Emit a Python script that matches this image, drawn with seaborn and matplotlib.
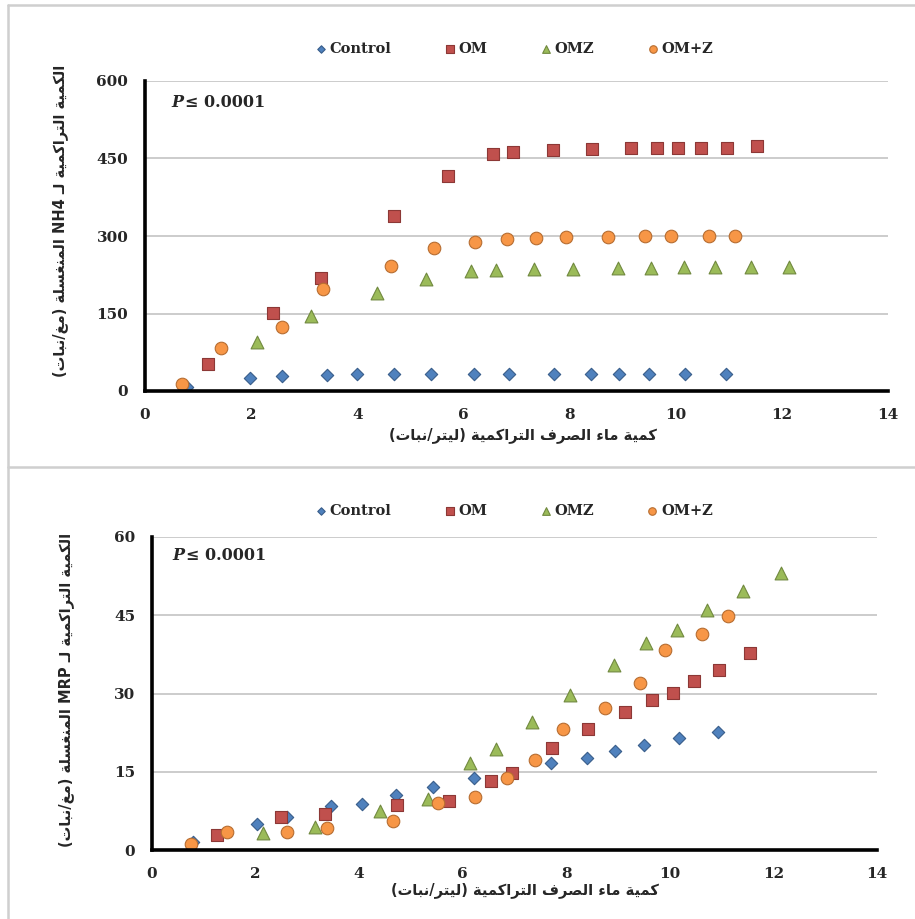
import re
import matplotlib
matplotlib.use("Agg")
import matplotlib.pyplot as plt
from matplotlib.lines import Line2D
import seaborn as sns
import pandas as pd

# ---------------- data ----------------
series_names = ["Control", "OM", "OMZ", "OM+Z"]

ctrl_x_nh4 = [0.79, 1.98, 2.59, 3.43, 4.00, 4.69, 5.39, 6.20, 6.85, 7.70, 8.41, 8.93, 9.49, 10.18, 10.95]
ctrl_y_nh4 = [7, 26, 29, 31, 32, 33, 33, 33, 33, 33, 33, 33, 33, 33, 33]
om_x_nh4 = [1.18, 2.41, 3.32, 4.70, 5.70, 6.55, 6.94, 7.69, 8.43, 9.15, 9.64, 10.05, 10.47, 10.97, 11.53]
om_y_nh4 = [53, 151, 219, 339, 416, 458, 463, 467, 469, 470, 470, 471, 471, 471, 474]
omz_x_nh4 = [2.11, 3.12, 4.37, 5.30, 6.15, 6.61, 7.33, 8.07, 8.92, 9.53, 10.15, 10.74, 11.41, 12.13]
omz_y_nh4 = [94, 146, 190, 217, 232, 234, 236, 237, 239, 239, 240, 240, 240, 240]
ompz_x_nh4 = [0.70, 1.43, 2.58, 3.35, 4.64, 5.45, 6.22, 6.83, 7.37, 7.93, 8.73, 9.42, 9.92, 10.62, 11.11]
ompz_y_nh4 = [13, 84, 123, 197, 242, 277, 289, 294, 297, 299, 299, 300, 300, 300, 300]

ctrl_x_mrp = [0.79, 2.03, 2.61, 3.46, 4.06, 4.71, 5.42, 6.22, 7.70, 8.40, 8.95, 9.50, 10.18, 10.93]
ctrl_y_mrp = [1.6, 5.0, 6.3, 8.4, 8.8, 10.6, 12.1, 13.8, 16.6, 17.7, 19.0, 20.2, 21.4, 22.7]
om_x_mrp = [1.25, 2.49, 3.34, 4.74, 5.73, 6.55, 6.96, 7.72, 8.42, 9.14, 9.65, 10.06, 10.46, 10.95, 11.55]
om_y_mrp = [2.9, 6.3, 6.9, 8.6, 9.3, 13.2, 14.8, 19.5, 23.1, 26.4, 28.7, 30.1, 32.4, 34.5, 37.7]
omz_x_mrp = [2.15, 3.14, 4.40, 5.32, 6.15, 6.64, 7.33, 8.07, 8.93, 9.54, 10.13, 10.72, 11.41, 12.15]
omz_y_mrp = [3.3, 4.4, 7.4, 9.7, 16.6, 19.4, 24.6, 29.8, 35.5, 39.6, 42.1, 46.0, 49.6, 53.1]
ompz_x_mrp = [0.76, 1.45, 2.61, 3.38, 4.65, 5.53, 6.24, 6.85, 7.39, 7.94, 8.75, 9.42, 9.90, 10.62, 11.13]
ompz_y_mrp = [1.2, 3.4, 3.4, 4.3, 5.5, 9.1, 10.1, 13.8, 17.2, 23.1, 27.2, 32.0, 38.4, 41.5, 44.8]

x_ticks = [0, 2, 4, 6, 8, 10, 12, 14]
y_ticks_nh4 = [0, 150, 300, 450, 600]
y_ticks_mrp = [0, 15, 30, 45, 60]

x_label = "كمية ماء الصرف التراكمية (ليتر/نبات)"
y_label_nh4 = "الكمية التراكمية لـ NH4 المنغسلة (مغ/نبات)"
y_label_mrp = "الكمية التراكمية لـ MRP المنغسلة (مغ/نبات)"
p_text = "≤ 0.0001"

# ---------------- styles ----------------
face = {"Control": "#4F81BD", "OM": "#C0504D", "OMZ": "#9BBB59", "OM+Z": "#F79646"}
edge = {"Control": "#385D8A", "OM": "#8C3836", "OMZ": "#71893F", "OM+Z": "#B66D31"}
mark = {"Control": "D", "OM": "s", "OMZ": "^", "OM+Z": "o"}
msize = {"Control": 40, "OM": 80, "OMZ": 85, "OM+Z": 82}

# ---------------- minimal Arabic shaping ----------------
FORMS = {
    "\u0621": ("\uFE80", None, None, None),
    "\u0627": ("\uFE8D", "\uFE8E", None, None),
    "\u0628": ("\uFE8F", "\uFE90", "\uFE91", "\uFE92"),
    "\u0629": ("\uFE93", "\uFE94", None, None),
    "\u062A": ("\uFE95", "\uFE96", "\uFE97", "\uFE98"),
    "\u0631": ("\uFEAD", "\uFEAE", None, None),
    "\u0633": ("\uFEB1", "\uFEB2", "\uFEB3", "\uFEB4"),
    "\u0635": ("\uFEB9", "\uFEBA", "\uFEBB", "\uFEBC"),
    "\u063A": ("\uFECD", "\uFECE", "\uFECF", "\uFED0"),
    "\u0641": ("\uFED1", "\uFED2", "\uFED3", "\uFED4"),
    "\u0643": ("\uFED9", "\uFEDA", "\uFEDB", "\uFEDC"),
    "\u0644": ("\uFEDD", "\uFEDE", "\uFEDF", "\uFEE0"),
    "\u0645": ("\uFEE1", "\uFEE2", "\uFEE3", "\uFEE4"),
    "\u0646": ("\uFEE5", "\uFEE6", "\uFEE7", "\uFEE8"),
    "\u064A": ("\uFEF1", "\uFEF2", "\uFEF3", "\uFEF4"),
    "\u0640": ("\u0640", "\u0640", "\u0640", "\u0640"),
}
MIRROR = {"(": ")", ")": "("}


def shape_arabic(text):
    toks = []
    i = 0
    while i < len(text):
        if text[i] == "\u0644" and i + 1 < len(text) and text[i + 1] == "\u0627":
            toks.append("LA")
            i += 2
        else:
            toks.append(text[i])
            i += 1

    def is_dual(c):
        return c != "LA" and c in FORMS and FORMS[c][2] is not None

    def is_join(c):
        return c == "LA" or (c in FORMS and FORMS[c][1] is not None)

    out = []
    for k, t in enumerate(toks):
        prev = toks[k - 1] if k > 0 else None
        nxt = toks[k + 1] if k + 1 < len(toks) else None
        jp = prev is not None and is_dual(prev) and is_join(t)
        if t == "LA":
            out.append("\uFEFC" if jp else "\uFEFB")
            continue
        if t not in FORMS:
            out.append(t)
            continue
        f = FORMS[t]
        jn = nxt is not None and is_dual(t) and is_join(nxt)
        if jp and jn:
            out.append(f[3])
        elif jp:
            out.append(f[1])
        elif jn:
            out.append(f[2])
        else:
            out.append(f[0])
    shaped = "".join(out)
    runs = re.findall(r"[A-Za-z0-9.]+|[^A-Za-z0-9.]+", shaped)
    vis = []
    for r in reversed(runs):
        if re.match(r"[A-Za-z0-9]", r):
            vis.append(r)
        else:
            vis.append("".join(MIRROR.get(c, c) for c in reversed(r)))
    return "".join(vis)


# ---------------- figure ----------------
sns.set_theme(style="white")
plt.rcParams["font.family"] = ["DejaVu Serif", "DejaVu Sans"]

fig = plt.figure(figsize=(9.15, 9.19), dpi=100)
fig.patch.set_facecolor("white")

# panel frame lines
frame_c = "#CFCFCF"
fig.add_artist(Line2D([8 / 915, 8 / 915], [0, 1 - 5 / 919], transform=fig.transFigure, color=frame_c, lw=1.8))
fig.add_artist(Line2D([8 / 915, 1], [1 - 5 / 919, 1 - 5 / 919], transform=fig.transFigure, color=frame_c, lw=1.8))
fig.add_artist(Line2D([8 / 915, 1], [1 - 467 / 919, 1 - 467 / 919], transform=fig.transFigure, color=frame_c, lw=1.8))

ax1 = fig.add_axes([145 / 915, 1 - 391 / 919, 743 / 915, 310 / 919])
ax2 = fig.add_axes([152 / 915, 1 - 850 / 919, 725 / 915, 313 / 919])

panels = [
    (ax1, {"Control": (ctrl_x_nh4, ctrl_y_nh4), "OM": (om_x_nh4, om_y_nh4),
           "OMZ": (omz_x_nh4, omz_y_nh4), "OM+Z": (ompz_x_nh4, ompz_y_nh4)},
     y_ticks_nh4, y_label_nh4, (0.036, 0.932), (0.498, 1.103), (-0.114, 0.55), (0.509, -0.141)),
    (ax2, {"Control": (ctrl_x_mrp, ctrl_y_mrp), "OM": (om_x_mrp, om_y_mrp),
           "OMZ": (omz_x_mrp, omz_y_mrp), "OM+Z": (ompz_x_mrp, ompz_y_mrp)},
     y_ticks_mrp, y_label_mrp, (0.028, 0.94), (0.50, 1.083), (-0.119, 0.511), (0.514, -0.127)),
]

for ax, data, yt, ylab, ppos, legpos, ylpos, xlpos in panels:
    for name in series_names:
        xs, ys = data[name]
        df = pd.DataFrame({"x": xs, "y": ys})
        sns.scatterplot(data=df, x="x", y="y", ax=ax, marker=mark[name], s=msize[name],
                        color=face[name], edgecolor=edge[name], linewidth=0.8,
                        label=name, zorder=3)
    ax.set_xlim(0, 14)
    ax.set_ylim(yt[0], yt[-1])
    ax.set_xticks(x_ticks)
    ax.set_yticks(yt)
    ax.set_xticklabels([str(v) for v in x_ticks])
    ax.set_yticklabels([str(v) for v in yt])
    for lab in ax.get_xticklabels() + ax.get_yticklabels():
        lab.set_fontweight("bold")
        lab.set_fontsize(11)
        lab.set_fontfamily("DejaVu Serif")
    ax.tick_params(axis="both", direction="out", length=3, width=2, color="black", pad=9)
    for g in yt[1:]:
        ax.axhline(g, color="#C4C4C4", lw=1.2, zorder=1)
    for s in ["top", "right"]:
        ax.spines[s].set_visible(False)
    for s in ["left", "bottom"]:
        ax.spines[s].set_color("black")
        ax.spines[s].set_linewidth(2.6)
        ax.spines[s].set_zorder(4)
    ax.set_facecolor("white")

    ax.set_xlabel(shape_arabic(x_label), family="DejaVu Sans", fontweight="bold", fontsize=10.5)
    ax.xaxis.set_label_coords(*xlpos)
    ax.xaxis.label.set_va("center")
    ax.set_ylabel(shape_arabic(ylab), family="DejaVu Sans", fontweight="bold", fontsize=10.5)
    ax.yaxis.set_label_coords(*ylpos)
    ax.yaxis.label.set_va("center")

    t1 = ax.text(ppos[0], ppos[1], "P", transform=ax.transAxes, fontsize=11.5,
                 fontweight="bold", fontstyle="italic", family="DejaVu Serif", va="center", ha="left")
    ax.annotate(p_text, xy=(1, 0.5), xycoords=t1, xytext=(1, 0), textcoords="offset points",
                fontsize=11.5, fontweight="bold", family="DejaVu Serif", va="center", ha="left")

    handles, labels = ax.get_legend_handles_labels()
    ax.legend(handles, labels, loc="center", bbox_to_anchor=legpos, ncol=4, frameon=False,
              markerscale=0.6, handlelength=0.6, handletextpad=0.3, columnspacing=3.7,
              prop={"family": "DejaVu Serif", "weight": "bold", "size": 10.5})

fig.savefig("out.png", dpi=100, facecolor="white")
